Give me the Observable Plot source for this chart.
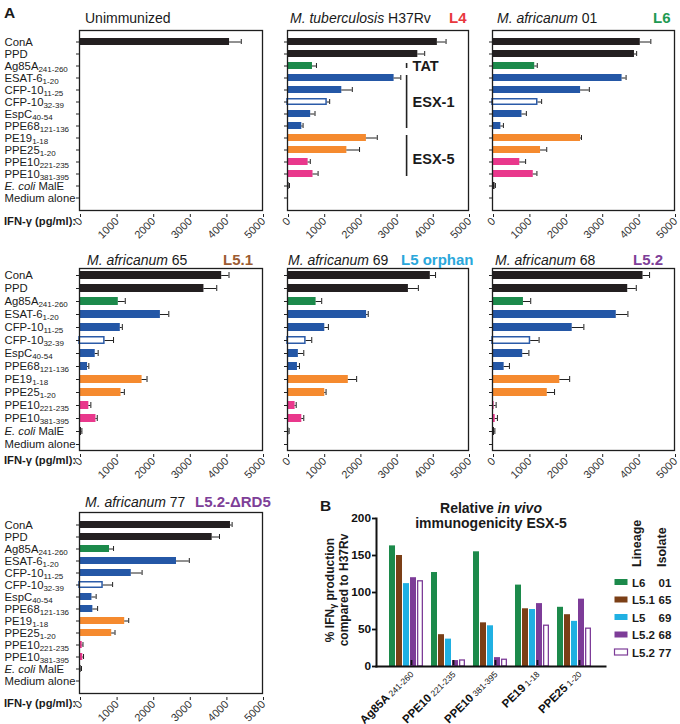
<!DOCTYPE html>
<html><head><meta charset="utf-8">
<script src="https://cdn.jsdelivr.net/npm/d3@7"></script>
<script src="https://cdn.jsdelivr.net/npm/@observablehq/plot@0.6"></script>
<style>
body{margin:0;background:#fff;}
#root{position:relative;width:680px;height:724px;overflow:hidden;background:#fff;font-family:"Liberation Sans",Arial,Helvetica,sans-serif;}
</style></head><body><div id="root"></div>
<script>
// ---------------- DATA ----------------
const antigenNames = ["ConA","PPD","Ag85A","ESAT-6","CFP-10","CFP-10","EspC","PPE68","PE19","PPE25","PPE10","PPE10","*E. coli* MalE","Medium alone"];
const antigenSubs  = ["","","241-260","1-20","11-25","32-39","40-54","121-136","1-18","1-20","221-235","381-395","",""];
const antigenClass = ["control","control","TAT","ESX-1","ESX-1","ESX-1 open","ESX-1","ESX-1","ESX-5 PE/PPE","ESX-5 PE/PPE","ESX-5 PPE10","ESX-5 PPE10","negative","negative"];
const classNames  = ["control","TAT","ESX-1","ESX-1 open","ESX-5 PE/PPE","ESX-5 PPE10","negative"];
const classColors = ["#231f20","#1c8a4b","#2457a6","#ffffff","#f58a2f","#e9388c","#231f20"];
const xTicks = [0,1000,2000,3000,4000,5000];

const unimmunizedMean = [4100,15,12,12,12,12,12,12,12,12,12,12,15,10];
const unimmunizedErr  = [320,0,0,0,0,0,0,0,0,0,0,0,0,0];
const h37rvMean = [4140,3600,690,2945,1500,1100,640,395,2180,1640,570,705,45,20];
const h37rvErr  = [240,190,110,185,290,65,120,35,300,350,60,140,10,0];
const af01Mean = [4060,3900,1160,3560,2420,1250,810,230,2420,1320,750,1120,70,25];
const af01Err  = [290,60,70,110,240,100,120,70,25,170,160,100,10,0];
const af65Mean = [3885,3400,1060,2210,1115,700,430,220,1710,1135,255,450,55,15];
const af65Err  = [200,350,190,230,55,230,80,35,135,90,55,35,10,0];
const af69Mean = [3945,3340,790,2185,1030,515,300,275,1680,1030,210,395,35,15];
const af69Err  = [145,275,155,45,100,155,150,55,230,35,30,55,10,0];
const af68Mean = [4135,3715,850,3400,2190,1050,830,320,1850,1505,45,75,55,15];
const af68Err  = [180,235,200,320,320,230,170,145,270,200,55,60,10,0];
const af77Mean = [4125,3625,820,2650,1415,650,340,365,1235,880,75,90,45,15];
const af77Err  = [45,200,110,350,295,255,115,130,110,90,20,20,10,0];

const bracketLabels = ["TAT","ESX-1","ESX-5"];
const bracketFrom = [2,3,8];
const bracketTo   = [2,7,11];
const bracketAt   = [2,5,10];
const bracketValue = 3290;

// Panel B
const bGroupNames = ["Ag85A","PPE10","PPE10","PE19","PPE25"];
const bGroupSubs  = ["241-260","221-235","381-395","1-18","1-20"];
const seriesLineage = ["L6","L5.1","L5","L5.2","L5.2"];
const seriesIsolate = ["01","65","69","68","77"];
const seriesColors  = ["#1c8a4b","#7b3f16","#20b0e2","#7d3c98","#ffffff"];
const pctL6_01   = [163,127,155,110,80];
const pctL51_65  = [150,43,59,78,70];
const pctL5_69   = [112,37,55,77,61];
const pctL52_68  = [120,8,12,85,91];
const pctL52_77  = [116,9,10,56,52];
const bValues = [pctL6_01,pctL51_65,pctL5_69,pctL52_68,pctL52_77];
const bYTicks = [0,50,100,150,200];
const referenceLevel = 100;

// ---------------- LAYOUT ----------------
const FONT = "'Liberation Sans', Arial, Helvetica, sans-serif";
const cols = [{left:79,right:262},{left:287,right:468},{left:492,right:674}];
const rows = [{top:30,bottom:210,base:23,ifn:225},{top:268,bottom:450,base:264.5,ifn:464},{top:512,bottom:693,base:507,ifn:707}];
const panels = [
  {title:[["Unimmunized",0]], tag:"", tagColor:"#000", mean:unimmunizedMean, err:unimmunizedErr, c:0, r:0, tx:85, tagX:0},
  {title:[["M. tuberculosis",1],[" H37Rv",0]], tag:"L4", tagColor:"#e8383d", mean:h37rvMean, err:h37rvErr, c:1, r:0, tx:290, tagX:449, brackets:true},
  {title:[["M. africanum",1],[" 01",0]], tag:"L6", tagColor:"#1e9a52", mean:af01Mean, err:af01Err, c:2, r:0, tx:497, tagX:653},
  {title:[["M. africanum",1],[" 65",0]], tag:"L5.1", tagColor:"#9c5c33", mean:af65Mean, err:af65Err, c:0, r:1, tx:87, tagX:223},
  {title:[["M. africanum",1],[" 69",0]], tag:"L5 orphan", tagColor:"#2aa7db", mean:af69Mean, err:af69Err, c:1, r:1, tx:288, tagX:401},
  {title:[["M. africanum",1],[" 68",0]], tag:"L5.2", tagColor:"#7e3f98", mean:af68Mean, err:af68Err, c:2, r:1, tx:495, tagX:633},
  {title:[["M. africanum",1],[" 77",0]], tag:"L5.2-ΔRD5", tagColor:"#7e3f98", mean:af77Mean, err:af77Err, c:0, r:2, tx:85, tagX:195},
];

const root = document.getElementById("root");
const keyOf = i => antigenNames[i] + "#" + antigenSubs[i];
const labelOf = i => antigenNames[i] + (antigenSubs[i] ? "|" + antigenSubs[i] : "");

function rich(svg, o) {
  d3.select(svg).selectAll("text").each(function() {
    const t = this.textContent;
    if (!t.includes("|") && !t.includes("*")) return;
    const el = d3.select(this);
    el.text(null);
    const [main, sub] = t.split("|");
    main.split("*").forEach((p, i) => { if (p) el.append("tspan").attr("font-style", i % 2 ? "italic" : null).text(p); });
    if (sub) el.append("tspan").attr("font-size", o.subSize).attr("font-weight", o.subWeight || null).attr("dy", o.subDy).text((o.sep || "") + sub);
  });
}
function place(svg, left, top) {
  svg.style.position = "absolute";
  svg.style.left = left + "px";
  svg.style.top = top + "px";
  root.appendChild(svg);
}

// ---------------- PANEL A ----------------
panels.forEach(p => {
  const C = cols[p.c], R = rows[p.r];
  const data = antigenNames.map((n, i) => ({key: keyOf(i), label: labelOf(i), cls: antigenClass[i], v: p.mean[i], e: p.err[i]}));
  const showLabels = p.c === 0;
  const svgLeft = showLabels ? 0 : C.left - 10;
  const marginLeft = C.left - svgLeft, marginRight = 6, marginTop = 3, marginBottom = 34;
  const width = C.right - svgLeft + marginRight;
  const height = marginTop + (R.bottom - R.top) + marginBottom;
  const withErr = data.filter(d => d.e > 0);
  const marks = [
    Plot.barX(data.filter(d => d.cls !== "ESX-1 open"), {x: "v", y: "key", fill: "cls"}),
    Plot.barX(data.filter(d => d.cls === "ESX-1 open"), {x: "v", y: "key", fill: "white", stroke: "#2b5ba8", strokeWidth: 1.5, insetTop: 0.75, insetBottom: 0.75, insetRight: 0.75}),
    Plot.ruleY(withErr, {y: "key", x1: "v", x2: d => d.v + d.e, stroke: "#222", strokeWidth: 1}),
    Plot.tickX(withErr, {y: "key", x: d => d.v + d.e, stroke: "#222", strokeWidth: 1, insetTop: 1, insetBottom: 1}),
    Plot.frame({stroke: "#1e1e1e", strokeWidth: 1.3}),
    Plot.axisY({tickSize: 3, tickFormat: () => "", label: null, stroke: "#222"}),
    Plot.axisX({ticks: xTicks, tickFormat: d => String(d), label: null, tickSize: 3, tickRotate: -45, fontSize: 11, tickPadding: 2, dx: 1, dy: 4, stroke: "#222"}),
  ];
  if (showLabels) {
    marks.push(Plot.text(data, {y: "key", text: "label", frameAnchor: "left", textAnchor: "start", dx: 4 - marginLeft, fontSize: 11.3, fill: "#1a1a1a"}));
  }
  if (p.brackets) {
    const br = bracketLabels.map((l, i) => ({label: l, y1: keyOf(bracketFrom[i]), y2: keyOf(bracketTo[i]), at: keyOf(bracketAt[i])}));
    marks.push(Plot.ruleX(br, {x: () => bracketValue, y1: "y1", y2: "y2", stroke: "#222", strokeWidth: 1.6, insetTop: 1, insetBottom: 1}));
    marks.push(Plot.text(br.slice(0, 2), {x: () => bracketValue, y: "at", text: "label", textAnchor: "start", dx: 6, fontSize: 14.5, fontWeight: "bold", fill: "#1a1a1a"}));
    marks.push(Plot.text(br.slice(2), {x: () => bracketValue, y: "at", text: "label", textAnchor: "start", dx: 6, dy: -3, fontSize: 14.5, fontWeight: "bold", fill: "#1a1a1a"}));
  }
  const svg = Plot.plot({
    width, height, marginLeft, marginRight, marginTop, marginBottom,
    style: {fontFamily: FONT, fontSize: "11px", color: "#333", background: "transparent", overflow: "visible"},
    x: {domain: [0, 5000]},
    y: {type: "band", domain: antigenNames.map((n, i) => keyOf(i)), paddingInner: 0.4, paddingOuter: 0.2},
    color: {domain: classNames, range: classColors},
    marks
  });
  rich(svg, {subSize: 8, subDy: 2.2});
  place(svg, svgLeft, R.top - marginTop);
});

// ---------------- PANEL B ----------------
(function() {
  const bRows = [], domain = [];
  bGroupNames.forEach((g, gi) => {
    seriesLineage.forEach((s, si) => {
      const key = gi + ":" + si;
      domain.push(key);
      bRows.push({key, series: si + "", v: bValues[si][gi]});
    });
    if (gi < bGroupNames.length - 1) domain.push("gap" + gi);
  });
  const centerKeys = bGroupNames.map((g, gi) => gi + ":2");
  const axisLeft = 376, axisRight = 605, yTop = 518, yBottom = 666;
  const marginLeft = 30, marginRight = 5, marginTop = 5, marginBottom = 55;
  const svgLeft = axisLeft - marginLeft, svgTop = yTop - marginTop;
  const svg = Plot.plot({
    width: marginLeft + (axisRight - axisLeft) + marginRight,
    height: marginTop + (yBottom - yTop) + marginBottom,
    marginLeft, marginRight, marginTop, marginBottom,
    style: {fontFamily: FONT, fontSize: "12px", color: "#111", background: "transparent", overflow: "visible"},
    x: {type: "band", domain, paddingInner: 0.1, paddingOuter: 1.07},
    y: {domain: [0, 200]},
    color: {domain: seriesLineage.map((s, i) => i + ""), range: seriesColors},
    marks: [
      Plot.ruleY([referenceLevel], {x1: () => "gap0", stroke: "#333", strokeWidth: 1.6, strokeDasharray: "1.2,3.2"}),
      Plot.barY(bRows.filter(d => d.series !== "4"), {x: "key", y: "v", fill: "series"}),
      Plot.barY(bRows.filter(d => d.series === "4"), {x: "key", y: "v", fill: "white", stroke: "#7d3c98", strokeWidth: 1.3, insetLeft: 0.65, insetRight: 0.65, insetTop: 0.65}),
      Plot.frame({anchor: "left", stroke: "#111", strokeWidth: 2}),
      Plot.frame({anchor: "bottom", stroke: "#111", strokeWidth: 2}),
      Plot.axisY({ticks: bYTicks, label: null, tickSize: 4, tickPadding: 1.5, fontWeight: "bold", fontSize: 11.8, strokeWidth: 1.8}),
      Plot.axisX({ticks: centerKeys, label: null, tickSize: 5, tickRotate: -45, strokeWidth: 1.8, fontWeight: "bold", fontSize: 11.5, dx: 5, dy: -6,
        tickFormat: k => { const gi = +k.split(":")[0]; return bGroupNames[gi] + "|" + bGroupSubs[gi]; }})
    ]
  });
  rich(svg, {subSize: 8.5, subDy: 0, subWeight: "normal", sep: " "});
  place(svg, svgLeft, svgTop);
})();

// ---------------- OVERLAY TEXT ----------------
const ov = d3.select(root).append("svg").attr("width", 680).attr("height", 724)
  .style("position", "absolute").style("left", 0).style("top", 0).style("pointer-events", "none")
  .attr("font-family", FONT).attr("fill", "#1a1a1a");

ov.append("text").attr("x", 4).attr("y", 18).attr("font-size", 15.5).attr("font-weight", "bold").text("A");
ov.append("text").attr("x", 320).attr("y", 511).attr("font-size", 15.5).attr("font-weight", "bold").text("B");

panels.forEach(p => {
  const R = rows[p.r];
  const t = ov.append("text").attr("x", p.tx).attr("y", R.base).attr("font-size", 14);
  p.title.forEach(([s, it]) => t.append("tspan").attr("font-style", it ? "italic" : null).text(s));
  if (p.tag) ov.append("text").attr("x", p.tagX).attr("y", R.base).attr("font-size", 15).attr("font-weight", "bold").attr("fill", p.tagColor).text(p.tag);
});
rows.forEach(R => {
  ov.append("text").attr("x", 4).attr("y", R.ifn).attr("font-size", 11.2).attr("font-weight", "bold").text("IFN-γ (pg/ml):");
});

// Panel B title
const bt = ov.append("text").attr("x", 491).attr("y", 513).attr("font-size", 14).attr("font-weight", "bold").attr("text-anchor", "middle");
bt.append("tspan").text("Relative ");
bt.append("tspan").attr("font-style", "italic").text("in vivo");
ov.append("text").attr("x", 491).attr("y", 528).attr("font-size", 14).attr("font-weight", "bold").attr("text-anchor", "middle").text("immunogenicity ESX-5");

// Panel B y label
const yl1 = ov.append("text").attr("transform", "translate(334,590) rotate(-90)").attr("text-anchor", "middle").attr("font-size", 12).attr("font-weight", "bold");
yl1.append("tspan").text("% IFN");
yl1.append("tspan").attr("font-size", 9).attr("dy", 1.5).text("γ");
yl1.append("tspan").attr("dy", -1.5).text(" production");
ov.append("text").attr("transform", "translate(348,590) rotate(-90)").attr("text-anchor", "middle").attr("font-size", 12).attr("font-weight", "bold").text("compared to H37Rv");

// Legend
ov.append("text").attr("transform", "translate(641,567) rotate(-90)").attr("font-size", 12.5).attr("font-weight", "bold").text("Lineage");
ov.append("text").attr("transform", "translate(666,567) rotate(-90)").attr("font-size", 12.5).attr("font-weight", "bold").text("Isolate");
seriesLineage.forEach((s, i) => {
  const cy = 582 + i * 17.5;
  const open = seriesColors[i] === "#ffffff";
  ov.append("rect").attr("x", 614.5).attr("y", cy - 3).attr("width", 13).attr("height", 6)
    .attr("fill", seriesColors[i]).attr("stroke", open ? "#7d3c98" : "none").attr("stroke-width", 1.2);
  ov.append("text").attr("x", 632).attr("y", cy + 4.5).attr("font-size", 11.5).attr("font-weight", "bold").text(s);
  ov.append("text").attr("x", 658.5).attr("y", cy + 4.5).attr("font-size", 11.5).attr("font-weight", "bold").text(seriesIsolate[i]);
});
</script></body></html>
